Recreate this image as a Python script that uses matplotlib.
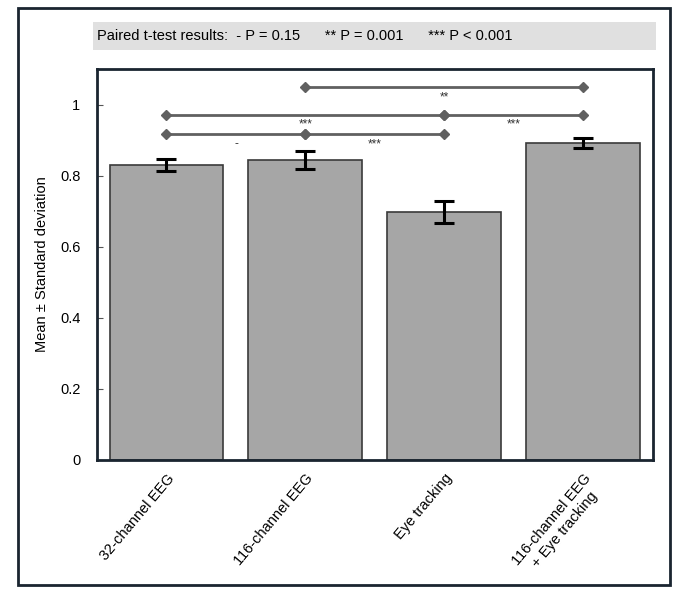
import numpy as np
import matplotlib.pyplot as plt
from matplotlib.patches import Rectangle

plt.rcParams['font.family'] = ['Liberation Sans', 'DejaVu Sans']

categories = ['32-channel EEG', '116-channel EEG', 'Eye tracking', '116-channel EEG\n+ Eye tracking']
means = [0.830, 0.844, 0.698, 0.892]
stds = [0.017, 0.025, 0.031, 0.013]

# significance brackets: (left bar, right bar, height, label)
sig_pairs = [(1, 3), (0, 2), (2, 3), (0, 1), (1, 2)]
sig_heights = [1.048, 0.972, 0.972, 0.918, 0.918]
sig_labels = ['**', '***', '***', '-', '***']

fig = plt.figure(figsize=(6.85, 5.98), dpi=100)
ax = fig.add_axes([0.1416, 0.2308, 0.8114, 0.6538])

x = np.arange(len(categories))
ax.bar(x, means, width=0.82, color='#a6a6a6', edgecolor='#3a3a3a', linewidth=1.2, zorder=2)
ax.errorbar(x, means, yerr=stds, fmt='none', ecolor='black', elinewidth=2.2,
            capsize=7, capthick=2.2, zorder=3)

for (a, b), h, lab in zip(sig_pairs, sig_heights, sig_labels):
    ax.plot([x[a], x[b]], [h, h], color='#606060', lw=2, marker='D', markersize=5,
            markerfacecolor='#606060', markeredgecolor='#606060', zorder=4)
    ax.text((x[a] + x[b]) / 2, h - 0.012, lab, ha='center', va='top', fontsize=8.5, color='#333333')

ax.set_xlim(-0.5, 3.5)
ax.set_ylim(0, 1.1)
ax.set_yticks([0, 0.2, 0.4, 0.6, 0.8, 1])
ax.set_yticklabels(['0', '0.2', '0.4', '0.6', '0.8', '1'])
ax.set_xticks(x)
ax.set_xticklabels(categories, rotation=50, ha='right', rotation_mode='anchor',
                   fontsize=10.5, multialignment='center')
ax.tick_params(axis='both', direction='in', length=4, labelsize=10.5, color='#555555')
ax.tick_params(axis='y', pad=12)
ax.tick_params(axis='x', pad=8, labelsize=10.5)
ax.set_ylabel('Mean \u00b1 Standard deviation', fontsize=10.5, labelpad=8)
for s in ax.spines.values():
    s.set_linewidth(2)
    s.set_color('#1a2530')

# header box with legend of p-values
fig.patches.append(Rectangle((0.136, 0.916), 0.822, 0.047, transform=fig.transFigure,
                             facecolor='#e0e0e0', edgecolor='none'))
fig.text(0.142, 0.939, 'Paired t-test results:  - P = 0.15      ** P = 0.001      *** P < 0.001',
         ha='left', va='center', fontsize=10.5)

# outer frame
fig.patches.append(Rectangle((0.026, 0.022), 0.952, 0.965, transform=fig.transFigure,
                             facecolor='none', edgecolor='#1a2530', linewidth=2))

fig.savefig('out.png', dpi=100)
